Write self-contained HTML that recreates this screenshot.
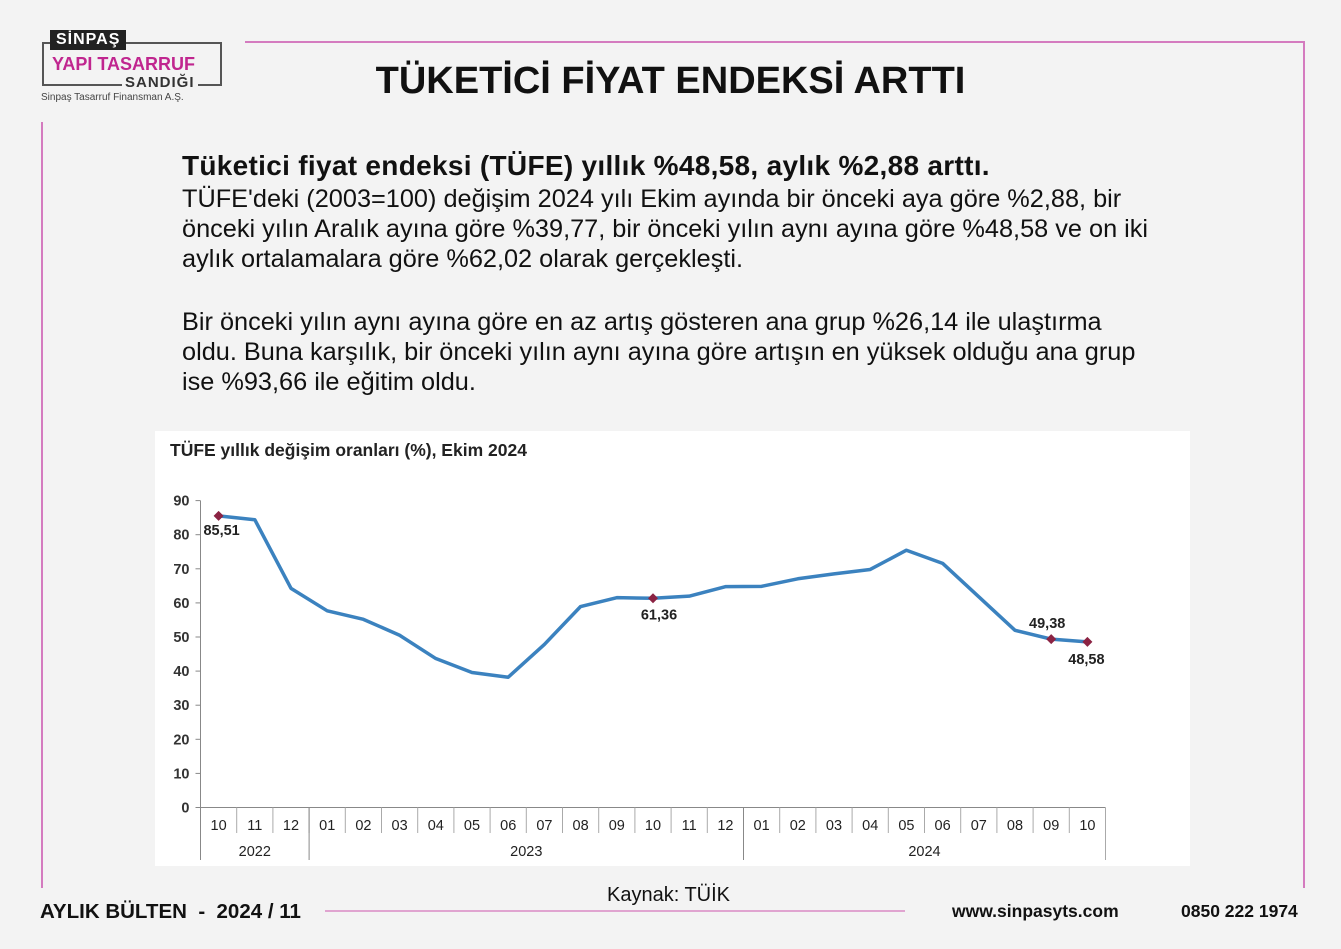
<!DOCTYPE html>
<html><head><meta charset="utf-8">
<style>
body{margin:0;width:1341px;height:949px;background:#f3f3f3;position:relative;overflow:hidden;font-family:"Liberation Sans",sans-serif;color:#111}
.a{position:absolute}
</style></head><body>
<div class="a" style="left:40px;top:30px;width:190px;height:80px">
  <div class="a" style="left:2px;top:12px;width:176px;height:40px;border:2px solid #555;border-top-color:#555"></div>
  <div class="a" style="left:10px;top:0;background:#222;color:#fff;font-weight:bold;font-size:16px;padding:1px 6px;letter-spacing:1px">SİNPAŞ</div>
  <div class="a" style="left:12px;top:24px;color:#c0268f;font-weight:bold;font-size:18px;background:#f3f3f3;white-space:nowrap">YAPI TASARRUF</div>
  <div class="a" style="left:82px;top:44px;color:#333;font-weight:bold;font-size:15px;background:#f3f3f3;padding:0 3px;letter-spacing:1px">SANDIĞI</div>
  <div class="a" style="left:1px;top:62px;color:#444;font-size:10px;white-space:nowrap">Sinpaş Tasarruf Finansman A.Ş.</div>
</div>
<div class="a" style="left:245px;top:41px;width:1060px;height:2px;background:#d47bbf"></div>
<div class="a" style="left:1303px;top:41px;width:2px;height:847px;background:#d47bbf"></div>
<div class="a" style="left:41px;top:122px;width:2px;height:766px;background:#d47bbf"></div>
<div class="a" style="left:325px;top:910px;width:580px;height:2px;background:#e0a4d0"></div>
<div class="a" style="left:0;width:1341px;top:60px;text-align:center;font-size:38px;font-weight:bold;color:#111">TÜKETİCİ FİYAT ENDEKSİ ARTTI</div>
<div class="a" style="left:182px;top:151px;width:990px;font-size:25.3px;line-height:30px">
<div style="font-weight:bold;font-size:28px;letter-spacing:0.3px">Tüketici fiyat endeksi (TÜFE) yıllık %48,58, aylık %2,88 arttı.</div>
<div style="margin-top:3px">TÜFE'deki (2003=100) değişim 2024 yılı Ekim ayında bir önceki aya göre %2,88, bir önceki yılın Aralık ayına göre %39,77, bir önceki yılın aynı ayına göre %48,58 ve on iki aylık ortalamalara göre %62,02 olarak gerçekleşti.</div>
<div style="margin-top:33px;width:958px">Bir önceki yılın aynı ayına göre en az artış gösteren ana grup %26,14 ile ulaştırma oldu. Buna karşılık, bir önceki yılın aynı ayına göre artışın en yüksek olduğu ana grup ise %93,66 ile eğitim oldu.</div>
</div>
<svg class="a" style="left:155px;top:431px" width="1035" height="435" viewBox="155 431 1035 435">
<rect x="155" y="431" width="1035" height="435" fill="#fff"/>
<text x="170" y="456" font-size="17.5" font-weight="bold" fill="#222">TÜFE yıllık değişim oranları (%), Ekim 2024</text>
<g id="g"></g>
</svg>
<div class="a" style="left:607px;top:884px;font-size:20px">Kaynak: TÜİK</div>
<div class="a" style="left:40px;top:900px;font-size:20.5px;font-weight:bold">AYLIK BÜLTEN&nbsp; - &nbsp;2024 / 11</div>
<div class="a" style="left:952px;top:901px;font-size:17.5px;font-weight:bold">www.sinpasyts.com</div>
<div class="a" style="left:1181px;top:901px;font-size:17.5px;font-weight:bold">0850 222 1974</div>
<script>
const months=["10","11","12","01","02","03","04","05","06","07","08","09","10","11","12","01","02","03","04","05","06","07","08","09","10"];
const values=[85.51,84.39,64.27,57.68,55.18,50.51,43.68,39.59,38.21,47.83,58.94,61.53,61.36,61.98,64.77,64.86,67.07,68.50,69.80,75.45,71.60,61.78,51.97,49.38,48.58];
const yTicks=[0,10,20,30,40,50,60,70,80,90];
const years=[{label:"2022",from:0,to:2},{label:"2023",from:3,to:14},{label:"2024",from:15,to:24}];
const labeled=[{i:0,text:"85,51",dx:3,dy:19},{i:12,text:"61,36",dx:6,dy:21},{i:23,text:"49,38",dx:-4,dy:-11},{i:24,text:"48,58",dx:-1,dy:22}];
const NS="http://www.w3.org/2000/svg",g=document.getElementById('g');
const x0=200.5,step=36.2,y0=807.5,yPer=3.41;
const X=i=>x0+step*(i+0.5), Y=v=>y0-v*yPer;
function el(t,a,p){const e=document.createElementNS(NS,t);for(const k in a)e.setAttribute(k,a[k]);(p||g).appendChild(e);return e;}
let ax=el('path',{d:`M${x0} ${Y(90)}V${y0}H${x0+step*months.length}`,stroke:'#888',fill:'none'});


yTicks.forEach(v=>{el('line',{x1:x0-5,x2:x0,y1:Y(v),y2:Y(v),stroke:'#888'});
 let t=el('text',{x:x0-11,y:Y(v)+5,'text-anchor':'end','font-size':14.5,'font-weight':'bold',fill:'#333'});t.textContent=v;
 
 });
months.forEach((m,i)=>{el('line',{x1:x0+step*i,x2:x0+step*i,y1:y0,y2:833,stroke:'#aaa'});
 let t=el('text',{x:X(i),y:830,'text-anchor':'middle','font-size':14.5,fill:'#222'});t.textContent=m;
 
 });
el('line',{x1:x0+step*months.length,x2:x0+step*months.length,y1:y0,y2:860,stroke:'#aaa'});
years.forEach(y=>{el('line',{x1:x0+step*y.from,x2:x0+step*y.from,y1:y0,y2:860,stroke:'#888'});
 let t=el('text',{x:(x0+step*y.from+x0+step*(y.to+1))/2,y:856,'text-anchor':'middle','font-size':14.5,fill:'#222'});t.textContent=y.label;
 
 });
let line=el('polyline',{points:values.map((v,i)=>X(i)+','+Y(v)).join(' '),fill:'none',stroke:'#3b82bf','stroke-width':3.5,'stroke-linejoin':'round'});


labeled.forEach(l=>{const cx=X(l.i),cy=Y(values[l.i]);
 let d=el('path',{d:`M${cx} ${cy-5}L${cx+5} ${cy}L${cx} ${cy+5}L${cx-5} ${cy}Z`,fill:'#8b2343'});
 
 
 let t=el('text',{x:cx+l.dx,y:cy+l.dy,'text-anchor':'middle','font-size':14.5,'font-weight':'bold',fill:'#222'});t.textContent=l.text;
 
 });
</script>
</body></html>
